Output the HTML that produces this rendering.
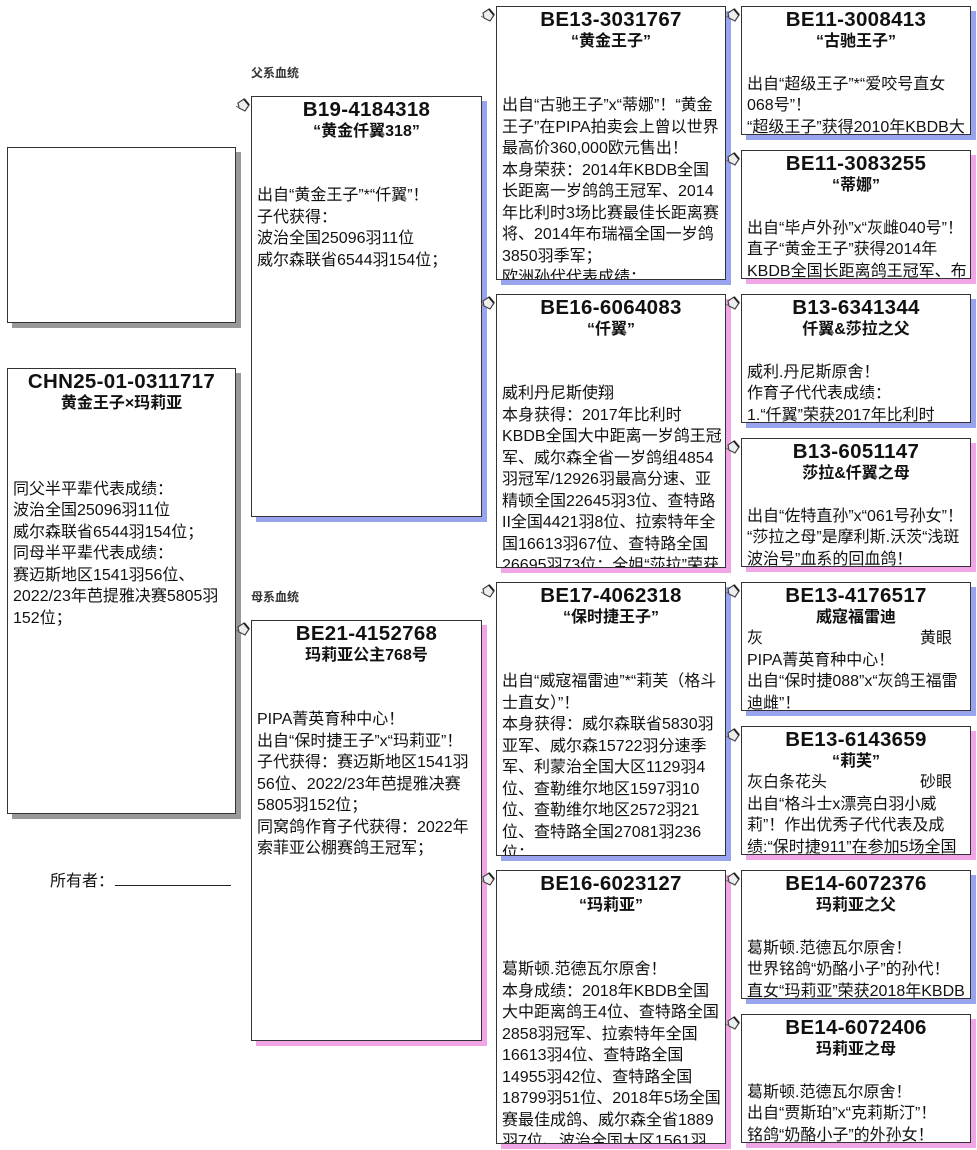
<!DOCTYPE html>
<html><head><meta charset="utf-8"><style>
body{margin:0;width:977px;height:1150px;background:#fff;position:relative;overflow:hidden;font-family:"Liberation Sans","Noto Sans CJK SC",sans-serif;color:#111}
.b{position:absolute;background:#fff;border:1px solid #333;box-sizing:border-box;overflow:hidden;padding:2px 0 0 5px;line-height:21.5px;font-size:16px;white-space:nowrap}
.m{box-shadow:5px 5px 0 #98a4ee}.f{box-shadow:5px 5px 0 #f0a6e6}.g{box-shadow:5px 5px 0 #999}
.t{display:block;text-align:center;font-weight:bold;font-size:20.5px;margin-left:-5px;font-family:"Liberation Sans","Noto Sans CJK SC",sans-serif;letter-spacing:0.3px}
.s{display:block;text-align:center;font-weight:bold;font-size:16px;margin-left:-5px}
.lab{position:absolute;font-size:12px;font-weight:bold;color:#333}
.ic{position:absolute;width:16px;height:16px}
.sp{display:inline-block;width:150px}
</style></head><body>
<svg width="0" height="0" style="position:absolute"><defs><g id="ic"><path d="M3 6 L9 2 L14 8 L10 14 L4 11 Z" fill="#eee" stroke="#444" stroke-width="1.2"/><path d="M9 2 L14 8" stroke="#222" stroke-width="2"/><path d="M1 9 L4 11" stroke="#666"/></g></defs></svg>

<div class="lab" style="left:251px;top:64px">父系血统</div>
<div class="lab" style="left:251px;top:588px">母系血统</div>

<div class="b g" style="left:7px;top:147px;width:229px;height:176px"></div>

<div class="b g" style="left:7px;top:368px;width:229px;height:446px"><span class="t">CHN25-01-0311717</span><span class="s">黄金王子×玛莉亚</span><br><br><br>同父半平辈代表成绩：<br>波治全国25096羽11位<br>威尔森联省6544羽154位；<br>同母半平辈代表成绩：<br>赛迈斯地区1541羽56位、<br>2022/23年芭提雅决赛5805羽<br>152位；</div>

<div style="position:absolute;left:50px;top:867px;font-size:16px">所有者：</div>
<div style="position:absolute;left:115px;top:885px;width:116px;border-top:1px solid #222"></div>

<div class="b m" style="left:251px;top:96px;width:231px;height:421px"><span class="t">B19-4184318</span><span class="s">“黄金仟翼318”</span><br><br>出自“黄金王子”*“仟翼”！<br>子代获得：<br>波治全国25096羽11位<br>威尔森联省6544羽154位；</div>

<div class="b f" style="left:251px;top:620px;width:231px;height:421px"><span class="t">BE21-4152768</span><span class="s">玛莉亚公主768号</span><br><br>PIPA菁英育种中心！<br>出自“保时捷王子”x“玛莉亚”！<br>子代获得：赛迈斯地区1541羽<br>56位、2022/23年芭提雅决赛<br>5805羽152位；<br>同窝鸽作育子代获得：2022年<br>索菲亚公棚赛鸽王冠军；</div>

<div class="b m" style="left:496px;top:6px;width:230px;height:274px"><span class="t">BE13-3031767</span><span class="s">“黄金王子”</span><br><br>出自“古驰王子”x“蒂娜”！“黄金<br>王子”在PIPA拍卖会上曾以世界<br>最高价360,000欧元售出！<br>本身荣获：2014年KBDB全国<br>长距离一岁鸽鸽王冠军、2014<br>年比利时3场比赛最佳长距离赛<br>将、2014年布瑞福全国一岁鸽<br>3850羽季军；<br>欧洲孙代代表成绩：</div>

<div class="b f" style="left:496px;top:294px;width:230px;height:274px"><span class="t">BE16-6064083</span><span class="s">“仟翼”</span><br><br>威利丹尼斯使翔<br>本身获得：2017年比利时<br>KBDB全国大中距离一岁鸽王冠<br>军、威尔森全省一岁鸽组4854<br>羽冠军/12926羽最高分速、亚<br>精顿全国22645羽3位、查特路<br>II全国4421羽8位、拉索特年全<br>国16613羽67位、查特路全国<br>26695羽73位；全姐“莎拉”荣获</div>

<div class="b m" style="left:496px;top:582px;width:230px;height:274px"><span class="t">BE17-4062318</span><span class="s">“保时捷王子”</span><br><br>出自“威寇福雷迪”*“莉芙（格斗<br>士直女）”！<br>本身获得：威尔森联省5830羽<br>亚军、威尔森15722羽分速季<br>军、利蒙治全国大区1129羽4<br>位、查勒维尔地区1597羽10<br>位、查勒维尔地区2572羽21<br>位、查特路全国27081羽236<br>位；</div>

<div class="b f" style="left:496px;top:870px;width:230px;height:274px"><span class="t">BE16-6023127</span><span class="s">“玛莉亚”</span><br><br>葛斯顿.范德瓦尔原舍！<br>本身成绩：2018年KBDB全国<br>大中距离鸽王4位、查特路全国<br>2858羽冠军、拉索特年全国<br>16613羽4位、查特路全国<br>14955羽42位、查特路全国<br>18799羽51位、2018年5场全国<br>赛最佳成鸽、威尔森全省1889<br>羽7位、波治全国大区1561羽</div>

<div class="b m" style="left:741px;top:6px;width:230px;height:129px"><span class="t">BE11-3008413</span><span class="s">“古驰王子”</span><br>出自“超级王子”*“爱咬号直女<br>068号”！<br>“超级王子”获得2010年KBDB大</div>
<div class="b f" style="left:741px;top:150px;width:230px;height:129px"><span class="t">BE11-3083255</span><span class="s">“蒂娜”</span><br>出自“毕卢外孙”x“灰雌040号”！<br>直子“黄金王子”获得2014年<br>KBDB全国长距离鸽王冠军、布</div>
<div class="b m" style="left:741px;top:294px;width:230px;height:129px"><span class="t">B13-6341344</span><span class="s">仟翼&amp;莎拉之父</span><br>威利.丹尼斯原舍！<br>作育子代代表成绩：<br>1.“仟翼”荣获2017年比利时</div>
<div class="b f" style="left:741px;top:438px;width:230px;height:129px"><span class="t">B13-6051147</span><span class="s">莎拉&amp;仟翼之母</span><br>出自“佐特直孙”x“061号孙女”！<br>“莎拉之母”是摩利斯.沃茨“浅斑<br>波治号”血系的回血鸽！</div>
<div class="b m" style="left:741px;top:582px;width:230px;height:129px"><span class="t">BE13-4176517</span><span class="s">威寇福雷迪</span>灰<span class="sp" style="width:157px"></span>黄眼<br>PIPA菁英育种中心！<br>出自“保时捷088”x“灰鸽王福雷<br>迪雌”！</div>
<div class="b f" style="left:741px;top:726px;width:230px;height:129px"><span class="t">BE13-6143659</span><span class="s">“莉芙”</span>灰白条花头<span class="sp" style="width:93px"></span>砂眼<br>出自“格斗士x漂亮白羽小威<br>莉”！作出优秀子代代表及成<br>绩:“保时捷911”在参加5场全国</div>
<div class="b m" style="left:741px;top:870px;width:230px;height:129px"><span class="t">BE14-6072376</span><span class="s">玛莉亚之父</span><br>葛斯顿.范德瓦尔原舍！<br>世界铭鸽“奶酪小子”的孙代！<br>直女“玛莉亚”荣获2018年KBDB</div>
<div class="b f" style="left:741px;top:1014px;width:230px;height:129px"><span class="t">BE14-6072406</span><span class="s">玛莉亚之母</span><br>葛斯顿.范德瓦尔原舍！<br>出自“贾斯珀”x“克莉斯汀”！<br>铭鸽“奶酪小子”的外孙女！</div>

<svg class="ic" style="left:235px;top:97px"><use href="#ic"/></svg>
<svg class="ic" style="left:235px;top:621px"><use href="#ic"/></svg>
<svg class="ic" style="left:480px;top:7px"><use href="#ic"/></svg>
<svg class="ic" style="left:480px;top:295px"><use href="#ic"/></svg>
<svg class="ic" style="left:480px;top:583px"><use href="#ic"/></svg>
<svg class="ic" style="left:480px;top:871px"><use href="#ic"/></svg>
<svg class="ic" style="left:725px;top:7px"><use href="#ic"/></svg>
<svg class="ic" style="left:725px;top:151px"><use href="#ic"/></svg>
<svg class="ic" style="left:725px;top:295px"><use href="#ic"/></svg>
<svg class="ic" style="left:725px;top:439px"><use href="#ic"/></svg>
<svg class="ic" style="left:725px;top:583px"><use href="#ic"/></svg>
<svg class="ic" style="left:725px;top:727px"><use href="#ic"/></svg>
<svg class="ic" style="left:725px;top:871px"><use href="#ic"/></svg>
<svg class="ic" style="left:725px;top:1015px"><use href="#ic"/></svg>
</body></html>
